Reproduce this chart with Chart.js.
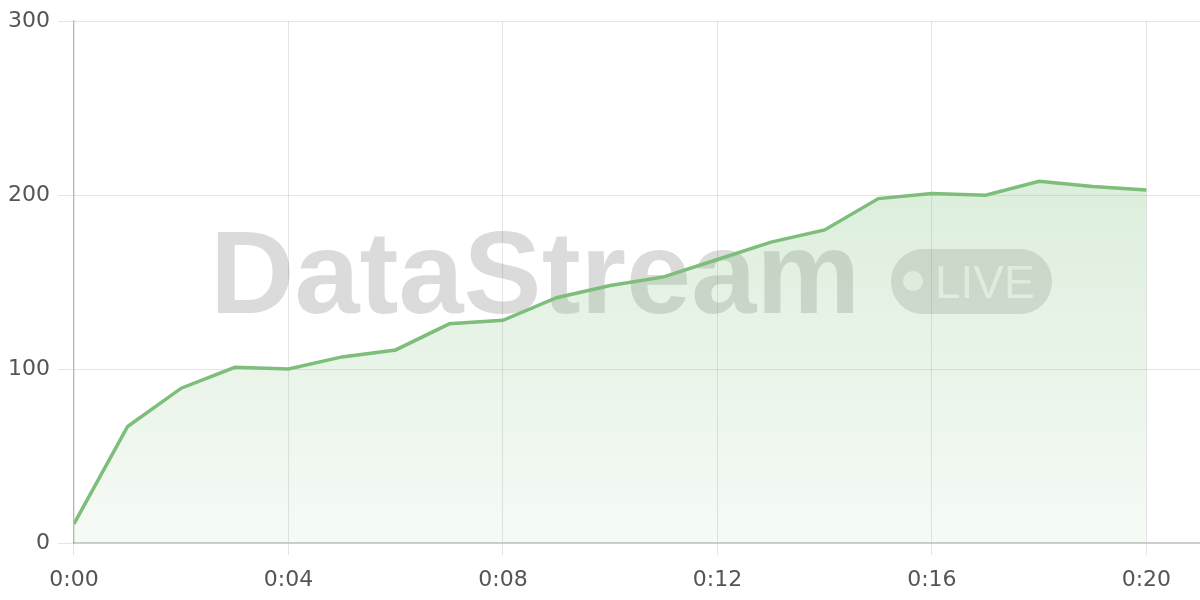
<!DOCTYPE html>
<html>
<head>
<meta charset="utf-8">
<script src="https://cdn.jsdelivr.net/npm/chart.js@4"></script>
<style>
  html, body { margin: 0; padding: 0; background: #fff; }
  #wrap { width: 1200px; height: 600px; }
</style>
</head>
<body>
<div id="wrap"><canvas id="streamChart"></canvas></div>
<script>
// minutes since start
var minutes = [0, 1, 2, 3, 4, 5, 6, 7, 8, 9, 10, 11, 12, 13, 14, 15, 16, 17, 18, 19, 20];
// values
var values = [11, 67, 89, 101, 100, 107, 111, 126, 128, 141, 148, 153, 163, 173, 180, 198, 201, 200, 208, 205, 203];
var yTicks = [0, 100, 200, 300];

var lineColor = 'rgb(124, 190, 122)';

/**
 * Dessine le filigrane "DataStream LIVE" derrière la courbe
 */
var watermark = {
    id: 'watermark',
    beforeDatasetsDraw: function(chart){
        let ctx = chart.ctx;
        let area = chart.chartArea;
        let cx = (area.left + area.right) / 2;
        let cy = (area.top + area.bottom) / 2;
        ctx.save();
        ctx.fillStyle = 'rgba(0, 0, 0, 0.14)';
        ctx.font = 'bold 117px "Liberation Sans", Arial, sans-serif';
        ctx.textBaseline = 'alphabetic';
        ctx.textAlign = 'left';
        ctx.fillText('DataStream', cx - 427, cy + 31);

        // pastille LIVE
        let px = cx + 254, py = cy - 33, pw = 161, ph = 65, r = 32;
        ctx.beginPath();
        ctx.moveTo(px + r, py);
        ctx.arcTo(px + pw, py, px + pw, py + ph, r);
        ctx.arcTo(px + pw, py + ph, px, py + ph, r);
        ctx.arcTo(px, py + ph, px, py, r);
        ctx.arcTo(px, py, px + pw, py, r);
        ctx.closePath();
        ctx.fillStyle = 'rgba(0, 0, 0, 0.12)';
        ctx.fill();

        ctx.fillStyle = 'rgba(255, 255, 255, 0.75)';
        ctx.beginPath();
        ctx.arc(px + 22, py + 32, 10, 0, Math.PI * 2);
        ctx.fill();
        ctx.font = '500 46px "Liberation Sans", Arial, sans-serif';
        ctx.fillText('LIVE', px + 44, py + 49);
        ctx.restore();
    }
};

let points = minutes.map(function(m, i){ return {x: m, y: values[i]}; });

let ctx = document.getElementById('streamChart').getContext('2d');
let chart = new Chart(ctx, {
    type: 'line',
    data: {
        datasets: [{
            data: points,
            borderColor: lineColor,
            borderWidth: 3.5,
            pointRadius: 0,
            tension: 0,
            fill: 'origin',
            backgroundColor: function(context){
                let area = context.chart.chartArea;
                if (!area) return 'rgba(124, 190, 122, 0.2)';
                let g = context.chart.ctx.createLinearGradient(0, area.top, 0, area.bottom);
                g.addColorStop(0, 'rgba(124, 190, 122, 0.32)');
                g.addColorStop(0.35, 'rgba(124, 190, 122, 0.25)');
                g.addColorStop(1, 'rgba(124, 190, 122, 0.07)');
                return g;
            }
        }]
    },
    options: {
        responsive: true,
        maintainAspectRatio: false,
        animation: false,
        layout: { padding: { top: 6, left: 0, right: 0, bottom: -5 } },
        plugins: {
            legend: { display: false },
            tooltip: { enabled: false }
        },
        scales: {
            x: {
                type: 'linear',
                min: 0,
                max: 21,
                grid: { color: 'rgba(0, 0, 0, 0.1)', tickLength: 12 },
                border: { color: 'rgba(0, 0, 0, 0.2)', width: 1.5 },
                ticks: {
                    stepSize: 4,
                    includeBounds: false,
                    maxRotation: 0,
                    padding: 14,
                    color: '#555',
                    font: { family: '"DejaVu Sans", sans-serif', size: 22, lineHeight: 1 },
                    callback: function(v){ return '0:' + String(v).padStart(2, '0'); }
                }
            },
            y: {
                min: 0,
                max: 300,
                afterBuildTicks: function(axis){
                    axis.ticks = yTicks.map(function(v){ return {value: v}; });
                },
                grid: { color: 'rgba(0, 0, 0, 0.1)', tickLength: 16 },
                border: { color: 'rgba(0, 0, 0, 0.2)', width: 1.5 },
                ticks: {
                    padding: 8,
                    color: '#555',
                    font: { family: '"DejaVu Sans", sans-serif', size: 22 }
                }
            }
        }
    },
    plugins: [watermark]
});
</script>
</body>
</html>
